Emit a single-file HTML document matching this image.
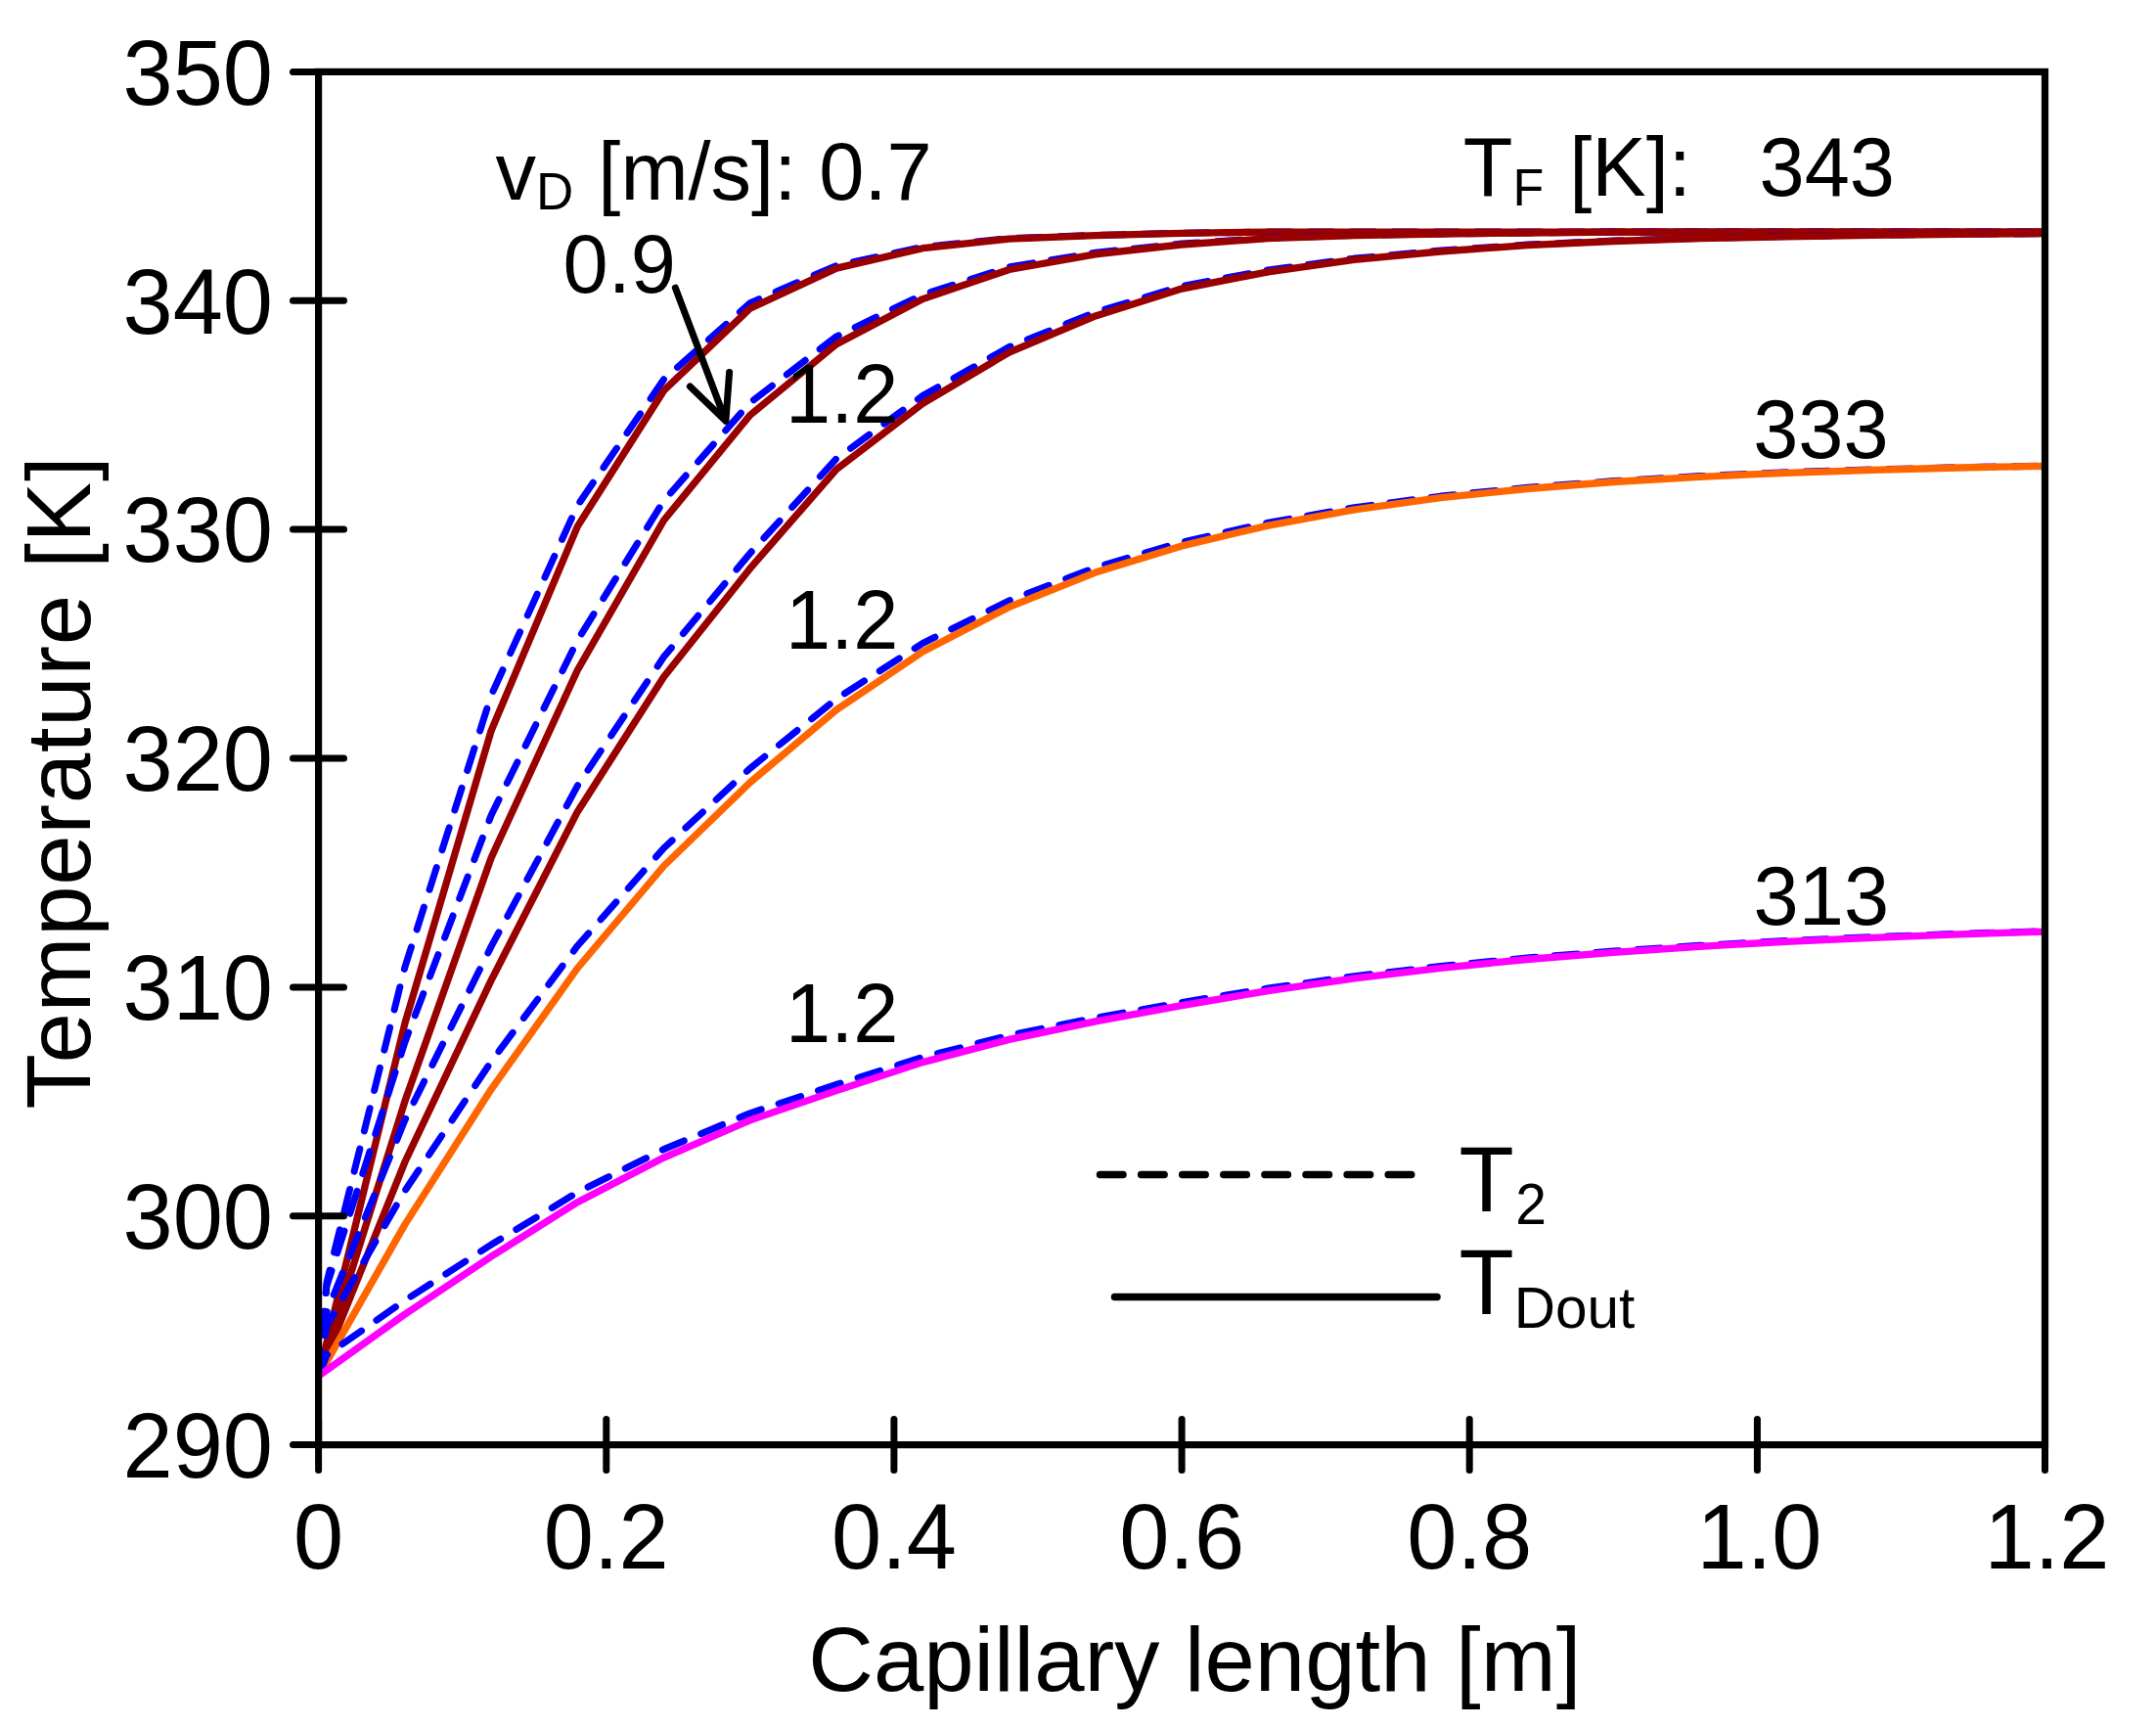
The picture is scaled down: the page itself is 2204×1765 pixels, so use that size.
<!DOCTYPE html>
<html><head><meta charset="utf-8"><title>Temperature vs capillary length</title>
<style>html,body{margin:0;padding:0;background:#fff}svg{display:block}text{font-family:"Liberation Sans",Arial,Helvetica,sans-serif;fill:#000}</style>
</head><body>
<svg width="2204" height="1765" viewBox="0 0 2204 1765">
<rect width="2204" height="1765" fill="#fff"/>
<defs><clipPath id="pa"><rect x="325.6" y="73.4" width="1764.9" height="1403.2"/></clipPath></defs>
<g clip-path="url(#pa)" fill="none" stroke-linejoin="round">
<polyline points="325.6,1406.4 334.0,1310.6 413.8,988.8 502.1,710.7 590.3,516.7 678.6,387.7 766.8,309.7 855.1,271.4 943.3,252.5 1031.6,243.6 1119.8,240.4 1208.1,238.2 1296.3,237.1 1384.5,237.1 1472.8,237.1 1561.0,237.1 1649.3,237.1 1737.5,237.1 1825.8,237.1 1914.0,237.1 2002.3,237.1 2090.5,237.1" stroke="#0000ff" stroke-width="7" stroke-dasharray="23.8 18.8" stroke-linecap="round"/>
<polyline points="325.6,1406.4 413.8,1046.3 502.1,746.9 590.3,538.1 678.6,399.2 766.8,315.2 855.1,274.1 943.3,253.7 1031.6,244.1 1119.8,240.6 1208.1,238.3 1296.3,237.1 1384.5,237.1 1472.8,237.1 1561.0,237.1 1649.3,237.1 1737.5,237.1 1825.8,237.1 1914.0,237.1 2002.3,237.1 2090.5,237.1" stroke="#990000" stroke-width="7.3"/>
<polyline points="325.6,1406.4 334.0,1314.1 413.8,1065.4 502.1,833.2 590.3,654.5 678.6,511.7 766.8,411.5 855.1,343.9 943.3,301.0 1031.6,272.9 1119.8,258.2 1208.1,249.1 1296.3,243.2 1384.5,240.4 1472.8,238.9 1561.0,238.0 1649.3,237.1 1737.5,237.1 1825.8,237.1 1914.0,237.1 2002.3,237.1 2090.5,237.1" stroke="#0000ff" stroke-width="7" stroke-dasharray="23.8 18.8" stroke-linecap="round"/>
<polyline points="325.6,1406.4 413.8,1125.8 502.1,876.7 590.3,685.0 678.6,531.8 766.8,424.2 855.1,351.7 943.3,305.6 1031.6,275.5 1119.8,259.8 1208.1,250.0 1296.3,243.7 1384.5,240.6 1472.8,239.0 1561.0,238.0 1649.3,237.1 1737.5,237.1 1825.8,237.1 1914.0,237.1 2002.3,237.1 2090.5,237.1" stroke="#990000" stroke-width="7.3"/>
<polyline points="325.6,1406.4 334.0,1341.0 413.8,1145.0 502.1,967.4 590.3,803.1 678.6,671.3 766.8,565.4 855.1,468.7 943.3,404.4 1031.6,354.6 1119.8,319.1 1208.1,292.5 1296.3,276.0 1384.5,264.1 1472.8,256.1 1561.0,250.1 1649.3,246.0 1737.5,243.4 1825.8,241.6 1914.0,240.2 2002.3,239.3 2090.5,238.7" stroke="#0000ff" stroke-width="7" stroke-dasharray="23.8 18.8" stroke-linecap="round"/>
<polyline points="325.6,1406.4 413.8,1187.8 502.1,1001.9 590.3,829.7 678.6,691.7 766.8,580.9 855.1,479.6 943.3,412.3 1031.6,360.1 1119.8,322.9 1208.1,295.1 1296.3,277.8 1384.5,265.4 1472.8,257.0 1561.0,250.7 1649.3,246.5 1737.5,243.7 1825.8,241.8 1914.0,240.4 2002.3,239.4 2090.5,238.7" stroke="#990000" stroke-width="7.3"/>
<polyline points="325.6,1406.4 334.0,1355.0 413.8,1217.2 502.1,1085.0 590.3,966.7 678.6,866.8 766.8,785.2 855.1,714.2 943.3,657.4 1031.6,613.9 1119.8,580.0 1208.1,554.1 1296.3,534.2 1384.5,518.7 1472.8,507.1 1561.0,498.3 1649.3,491.6 1737.5,486.6 1825.8,482.7 1914.0,479.9 2002.3,477.7 2090.5,476.1" stroke="#0000ff" stroke-width="7" stroke-dasharray="23.8 18.8" stroke-linecap="round"/>
<polyline points="325.6,1406.4 413.8,1251.6 502.1,1113.3 590.3,989.5 678.6,885.0 766.8,799.6 855.1,725.4 943.3,666.0 1031.6,620.4 1119.8,585.1 1208.1,557.9 1296.3,537.1 1384.5,520.9 1472.8,508.7 1561.0,499.5 1649.3,492.5 1737.5,487.3 1825.8,483.3 1914.0,480.3 2002.3,478.0 2090.5,476.3" stroke="#ff6600" stroke-width="7.3"/>
<polyline points="325.6,1406.4 334.0,1384.9 413.8,1329.1 502.1,1272.1 590.3,1218.6 678.6,1174.6 766.8,1137.7 855.1,1108.4 943.3,1080.5 1031.6,1058.1 1119.8,1040.2 1208.1,1024.5 1296.3,1010.0 1384.5,997.7 1472.8,987.5 1561.0,979.0 1649.3,972.1 1737.5,966.3 1825.8,961.5 1914.0,957.6 2002.3,954.3 2090.5,951.6" stroke="#0000ff" stroke-width="7" stroke-dasharray="23.8 18.8" stroke-linecap="round"/>
<polyline points="325.6,1406.4 413.8,1343.3 502.1,1284.2 590.3,1228.7 678.6,1183.1 766.8,1144.9 855.1,1114.6 943.3,1085.6 1031.6,1062.4 1119.8,1043.9 1208.1,1027.6 1296.3,1012.6 1384.5,999.8 1472.8,989.3 1561.0,980.5 1649.3,973.3 1737.5,967.3 1825.8,962.3 1914.0,958.3 2002.3,954.9 2090.5,952.1" stroke="#ff00ff" stroke-width="7.3"/>
</g>
<g stroke="#000" stroke-width="7" fill="none" stroke-linecap="round">
<rect x="325.6" y="73.4" width="1764.9" height="1403.2" stroke-width="7.2" stroke-linejoin="miter"/>
<line x1="299.5" y1="1476.6" x2="351.5" y2="1476.6"/>
<line x1="299.5" y1="1242.7" x2="351.5" y2="1242.7"/>
<line x1="299.5" y1="1008.9" x2="351.5" y2="1008.9"/>
<line x1="299.5" y1="775.0" x2="351.5" y2="775.0"/>
<line x1="299.5" y1="541.1" x2="351.5" y2="541.1"/>
<line x1="299.5" y1="307.3" x2="351.5" y2="307.3"/>
<line x1="299.5" y1="73.4" x2="351.5" y2="73.4"/>
<line x1="325.6" y1="1450.6" x2="325.6" y2="1502.5"/>
<line x1="619.8" y1="1450.6" x2="619.8" y2="1502.5"/>
<line x1="913.9" y1="1450.6" x2="913.9" y2="1502.5"/>
<line x1="1208.1" y1="1450.6" x2="1208.1" y2="1502.5"/>
<line x1="1502.2" y1="1450.6" x2="1502.2" y2="1502.5"/>
<line x1="1796.4" y1="1450.6" x2="1796.4" y2="1502.5"/>
<line x1="2090.5" y1="1476.6" x2="2090.5" y2="1502.5"/>
<path d="M690.4 294.2 L741.9 430.2 M705.4 394.9 L741.9 430.2 L745.6 380.4" stroke-linejoin="round"/>
<line x1="1124.5" y1="1200.4" x2="1446" y2="1200.4" stroke-width="7.5" stroke-dasharray="23.5 18.6"/>
<line x1="1139.5" y1="1325.6" x2="1469" y2="1325.6" stroke-width="7.5"/>
</g>
<g font-size="92">
<text transform="translate(279.0 1509.9) scale(1 1.025)" text-anchor="end">290</text>
<text transform="translate(279.0 1276.0) scale(1 1.025)" text-anchor="end">300</text>
<text transform="translate(279.0 1042.2) scale(1 1.025)" text-anchor="end">310</text>
<text transform="translate(279.0 808.3) scale(1 1.025)" text-anchor="end">320</text>
<text transform="translate(279.0 574.4) scale(1 1.025)" text-anchor="end">330</text>
<text transform="translate(279.0 340.6) scale(1 1.025)" text-anchor="end">340</text>
<text transform="translate(279.0 106.7) scale(1 1.025)" text-anchor="end">350</text>
<text transform="translate(325.6 1603.0) scale(1 1.025)" text-anchor="middle">0</text>
<text transform="translate(619.8 1603.0) scale(1 1.025)" text-anchor="middle">0.2</text>
<text transform="translate(913.9 1603.0) scale(1 1.025)" text-anchor="middle">0.4</text>
<text transform="translate(1208.1 1603.0) scale(1 1.025)" text-anchor="middle">0.6</text>
<text transform="translate(1502.2 1603.0) scale(1 1.025)" text-anchor="middle">0.8</text>
<text transform="translate(1798.4 1603.0) scale(1 1.025)" text-anchor="middle">1.0</text>
<text transform="translate(2092.5 1603.0) scale(1 1.025)" text-anchor="middle">1.2</text>
<text x="826.3" y="1727.5" font-size="92.3">Capillary length [m]</text>
<text transform="translate(92 1133.5) rotate(-90)" font-size="92.4" letter-spacing="0.7">Temperature [K]</text>
<text transform="translate(1491.5 1238.0) scale(1 1.025)">T<tspan font-size="57" dy="12.7" dx="1.5">2</tspan></text>
<text transform="translate(1491.5 1343.0) scale(1 1.025)">T<tspan font-size="58.5" dy="13.2">Dout</tspan></text>
</g>
<g font-size="83">
<text transform="translate(506.5 204.3) scale(1 1.000)">v<tspan font-size="53" dy="9.8">D</tspan><tspan dy="-9.8" dx="2"> [m/s]: 0.7</tspan></text>
<text transform="translate(575.5 299.4) scale(1 1.025)">0.9</text>
<text transform="translate(803.0 432.0) scale(1 1.025)">1.2</text>
<text transform="translate(803.0 662.5) scale(1 1.025)">1.2</text>
<text transform="translate(803.0 1064.7) scale(1 1.025)">1.2</text>
<text transform="translate(1495.8 199.6) scale(1 1.025)">T<tspan font-size="52" dy="10.2">F</tspan><tspan dy="-10.2" dx="3"> [K]:</tspan></text>
<text transform="translate(1798.5 199.6) scale(1 1.025)">343</text>
<text transform="translate(1792.2 468.2) scale(1 1.025)">333</text>
<text transform="translate(1792.6 944.8) scale(1 1.025)">313</text>
</g>
</svg></body></html>
